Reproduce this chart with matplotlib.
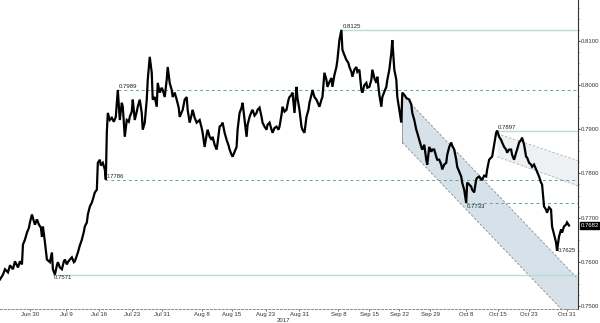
import matplotlib
matplotlib.use("Agg")
import matplotlib.pyplot as plt
import matplotlib.transforms as mtransforms
from matplotlib.ticker import MultipleLocator
import numpy as np

plt.rcParams['font.family'] = ['Liberation Sans', 'DejaVu Sans']

# ---- data: 4-hour bar number and price ----
bar = [0, 3, 5, 8, 10, 13, 15, 18, 20, 22, 23, 25, 27, 29, 30, 32, 34, 35, 37, 39,
       41, 42, 43, 45, 47, 50, 52, 53, 55, 57, 58, 60, 62, 64, 65, 67, 68, 70, 72, 74,
       75, 77, 78, 80, 82, 84, 85, 87, 88, 90, 92, 93, 95, 97, 98, 100, 101, 103, 105, 106,
       107, 108, 110, 112, 114, 116, 118, 120, 122, 123, 125, 127, 129, 130, 132, 133, 135, 137, 138, 140,
       142, 143, 145, 147, 148, 150, 151, 152, 153, 155, 157, 158, 160, 162, 163, 165, 167, 168, 170, 172,
       173, 175, 177, 179, 180, 183, 185, 187, 188, 190, 192, 193, 195, 197, 200, 202, 203, 205, 207, 208,
       210, 212, 213, 215, 217, 218, 220, 222, 223, 225, 227, 229, 230, 232, 233, 235, 237, 238, 240, 242,
       243, 245, 247, 248, 250, 252, 253, 255, 257, 258, 260, 262, 263, 265, 267, 268, 270, 272, 273, 275,
       277, 279, 280, 282, 283, 285, 287, 289, 290, 292, 293, 295, 297, 298, 300, 302, 303, 305, 307, 309,
       310, 312, 313, 315, 317, 320, 322, 323, 325, 327, 328, 330, 332, 333, 335, 337, 338, 340, 342, 343,
       345, 347, 349, 350, 352, 353, 355, 357, 358, 360, 362, 363, 365, 367, 368, 370, 372, 373, 375, 377,
       378, 380, 382, 383, 385, 387, 388, 390, 392, 393, 395, 397, 398, 400, 402, 403, 405, 407, 410, 412,
       413, 415, 417, 418, 420, 422, 423, 425, 427, 428, 430, 432, 433, 435, 437, 438, 440, 442, 443, 445,
       447, 448, 450, 452, 453, 455, 457, 458, 460, 462, 463, 465, 467, 468, 470, 472, 473, 475, 477, 478,
       480, 482, 483, 485, 487, 488, 490, 492, 493, 495, 497, 498, 500, 502, 503, 505, 507, 508, 510, 512,
       513, 515, 517, 518, 520, 522, 523, 525, 527, 528, 530, 532, 533, 535, 537, 538, 540, 542, 543, 545,
       547, 548, 550, 552, 553, 555, 557, 558, 560, 562, 563, 565, 567, 568, 570]
price = [0.7560, 0.7571, 0.7583, 0.7576, 0.7592, 0.7583, 0.7601, 0.7587, 0.7601, 0.7594,
         0.7639, 0.7650, 0.7666, 0.7677, 0.7689, 0.7707, 0.7691, 0.7684, 0.7696, 0.7684,
         0.7677, 0.7657, 0.7680, 0.7644, 0.7605, 0.7599, 0.7621, 0.7583, 0.7571, 0.7592,
         0.7599, 0.7587, 0.7583, 0.7601, 0.7605, 0.7594, 0.7599, 0.7605, 0.7610, 0.7599,
         0.7601, 0.7614, 0.7621, 0.7637, 0.7650, 0.7668, 0.7680, 0.7689, 0.7707, 0.7725,
         0.7734, 0.7741, 0.7757, 0.7763, 0.7824, 0.7831, 0.7818, 0.7824, 0.7809, 0.7786,
         0.7892, 0.7937, 0.7921, 0.7926, 0.7917, 0.7928, 0.7989, 0.7921, 0.7960, 0.7951,
         0.7883, 0.7921, 0.7917, 0.7928, 0.7940, 0.7967, 0.7921, 0.7940, 0.7951, 0.7967,
         0.7937, 0.7899, 0.7915, 0.7967, 0.8012, 0.8064, 0.8046, 0.8028, 0.7967, 0.7973,
         0.7951, 0.8005, 0.7983, 0.7994, 0.7989, 0.7973, 0.8012, 0.8041, 0.8005, 0.7989,
         0.7973, 0.7983, 0.7967, 0.7949, 0.7928, 0.7944, 0.7967, 0.7973, 0.7944, 0.7915,
         0.7933, 0.7944, 0.7926, 0.7915, 0.7921, 0.7903, 0.7892, 0.7860, 0.7888, 0.7899,
         0.7883, 0.7876, 0.7883, 0.7865, 0.7854, 0.7870, 0.7906, 0.7910, 0.7915, 0.7892,
         0.7876, 0.7863, 0.7854, 0.7842, 0.7838, 0.7849, 0.7860, 0.7899, 0.7937, 0.7949,
         0.7960, 0.7921, 0.7883, 0.7910, 0.7928, 0.7940, 0.7944, 0.7931, 0.7937, 0.7944,
         0.7949, 0.7928, 0.7915, 0.7906, 0.7899, 0.7910, 0.7915, 0.7899, 0.7892, 0.7903,
         0.7906, 0.7899, 0.7906, 0.7933, 0.7951, 0.7940, 0.7944, 0.7967, 0.7973, 0.7978,
         0.7983, 0.7937, 0.7996, 0.7971, 0.7944, 0.7906, 0.7899, 0.7892, 0.7928, 0.7944,
         0.7960, 0.7978, 0.7989, 0.7973, 0.7967, 0.7951, 0.7967, 0.7973, 0.8028, 0.8012,
         0.7996, 0.8007, 0.8016, 0.7996, 0.8023, 0.8041, 0.8057, 0.8102, 0.8125, 0.8080,
         0.8068, 0.8057, 0.8050, 0.8041, 0.8030, 0.8019, 0.8035, 0.8041, 0.8030, 0.8035,
         0.7989, 0.7983, 0.8000, 0.8005, 0.7994, 0.7996, 0.8012, 0.8035, 0.8016, 0.8005,
         0.8019, 0.7978, 0.7951, 0.7973, 0.7985, 0.7996, 0.8012, 0.8035, 0.8073, 0.8102,
         0.8035, 0.8012, 0.7973, 0.7944, 0.7915, 0.7983, 0.7978, 0.7971, 0.7967, 0.7956,
         0.7937, 0.7921, 0.7899, 0.7892, 0.7876, 0.7860, 0.7854, 0.7865, 0.7831, 0.7820,
         0.7860, 0.7849, 0.7854, 0.7854, 0.7838, 0.7831, 0.7831, 0.7820, 0.7809, 0.7820,
         0.7824, 0.7842, 0.7860, 0.7870, 0.7863, 0.7854, 0.7831, 0.7815, 0.7804, 0.7793,
         0.7779, 0.7763, 0.7733, 0.7779, 0.7775, 0.7770, 0.7763, 0.7757, 0.7786, 0.7790,
         0.7793, 0.7786, 0.7786, 0.7795, 0.7793, 0.7809, 0.7831, 0.7836, 0.7838, 0.7865,
         0.7892, 0.7897, 0.7883, 0.7876, 0.7870, 0.7860, 0.7854, 0.7847, 0.7854, 0.7854,
         0.7842, 0.7831, 0.7847, 0.7854, 0.7870, 0.7876, 0.7881, 0.7865, 0.7838, 0.7836,
         0.7824, 0.7820, 0.7815, 0.7820, 0.7809, 0.7804, 0.7793, 0.7779, 0.7775, 0.7725,
         0.7718, 0.7711, 0.7723, 0.7718, 0.7680, 0.7662, 0.7644, 0.7625, 0.7657, 0.7673,
         0.7666, 0.7680, 0.7684, 0.7689, 0.7682]

# horizontal reference levels
levels = [0.8125, 0.7989, 0.7897, 0.7786, 0.7733, 0.7571]
level_start = [342, 118, 498, 105, 467, 53]
level_dashed = [False, True, False, True, True, False]
level_label_above = [True, True, True, True, False, False]

low_label = 0.7625
low_bar = 558
last_price = 0.7682

# descending channel (shaded)
chan_bars = [403, 579]
chan_upper = [0.7978, 0.7561]
chan_lower = [0.7870, 0.7453]
# light channel from Oct high
chan2_bars = [498, 579]
chan2_upper = [0.7890, 0.7829]
chan2_lower = [0.7838, 0.7772]

tick_bars = [30, 66, 99, 132, 162, 202, 232, 266, 300, 339, 370, 400, 431, 467, 499, 530, 568]
tick_labels = ["Jun 30", "Jul 9", "Jul 16", "Jul 23", "Jul 31", "Aug 8", "Aug 15", "Aug 23",
               "Aug 31", "Sep 8", "Sep 15", "Sep 22", "Sep 29", "Oct 8", "Oct 15", "Oct 23", "Oct 31"]
y_ticks = [0.75, 0.76, 0.77, 0.78, 0.79, 0.80, 0.81]

# ---- figure ----
fig = plt.figure(figsize=(6.0, 3.23), dpi=100)
ax = fig.add_axes([0.0, 14 / 323, 578 / 600, 309 / 323])
ax.set_xlim(0, 579)
ax.set_ylim(0.7493, 0.81927)

FS = 4.3
# channels
ax.fill_between(chan_bars, chan_lower, chan_upper, color="#d6e1e9", zorder=1, lw=0)
ax.plot(chan_bars, chan_upper, ls=(0, (3, 2)), color="#8c8c8c", lw=0.6, zorder=2)
ax.plot(chan_bars, chan_lower, ls=(0, (3, 2)), color="#8c8c8c", lw=0.6, zorder=2)
ax.plot([chan_bars[0], chan_bars[0]], [chan_lower[0], chan_upper[0]], color="#8c8c8c", lw=0.6, zorder=2)

ax.fill_between(chan2_bars, chan2_lower, chan2_upper, color="#eef1f4", zorder=1, lw=0)
ax.plot(chan2_bars, chan2_upper, ls=(0, (3, 2)), color="#b0b0b0", lw=0.6, zorder=2)
ax.plot(chan2_bars, chan2_lower, ls=(0, (3, 2)), color="#b0b0b0", lw=0.6, zorder=2)

# levels
for lv, st, dsh, above in zip(levels, level_start, level_dashed, level_label_above):
    if dsh:
        ax.plot([st, 579], [lv, lv], color="#5aa79b", lw=0.7, ls=(0, (3, 3)), zorder=3)
    else:
        ax.plot([st, 579], [lv, lv], color="#b7ddd3", lw=1.0, zorder=3)
    ax.text(st + 1, lv + (0.0002 if above else -0.0002), f"{lv:.4f}", fontsize=FS,
            ha="left", va="bottom" if above else "top", color="#222222", zorder=6)

ax.text(low_bar + 1, low_label, f"{low_label:.4f}", fontsize=FS, ha="left", va="center",
        color="#222222", zorder=6)

# price line
ax.plot(bar, price, color="black", lw=1.6, zorder=5, solid_joinstyle="miter")

# axes styling
for s in ["top", "left"]:
    ax.spines[s].set_visible(False)
ax.spines["right"].set_color("#333333")
ax.spines["right"].set_linewidth(0.8)
ax.spines["bottom"].set_color("#888888")
ax.spines["bottom"].set_linestyle((0, (2, 2)))
ax.spines["bottom"].set_linewidth(0.7)

ax.yaxis.tick_right()
ax.set_yticks(y_ticks)
ax.set_yticklabels([f"{v:.4f}" for v in y_ticks])
ax.yaxis.set_minor_locator(MultipleLocator(0.0025))
ax.tick_params(axis="y", which="major", labelsize=FS, length=1.5, width=0.6, pad=0.4, colors="#333333")
ax.tick_params(axis="y", which="minor", length=1.0, width=0.5, colors="#333333")

ax.set_xticks(tick_bars)
ax.set_xticklabels(tick_labels)
ax.tick_params(axis="x", which="major", labelsize=FS, length=1.5, width=0.5, pad=0.8,
               colors="#333333")

# last price box
trans = mtransforms.blended_transform_factory(ax.transAxes, ax.transData)
ax.text(1.004, last_price, f"{last_price:.4f}", transform=trans, fontsize=FS, ha="left",
        va="center", color="white", zorder=10,
        bbox=dict(boxstyle="square,pad=0.12", fc="black", ec="black"), clip_on=False)

fig.text(283 / 600, 1 - 320.5 / 323, "2017", fontsize=FS, ha="center", va="center", color="#333333")

fig.savefig("out.png", dpi=100)
